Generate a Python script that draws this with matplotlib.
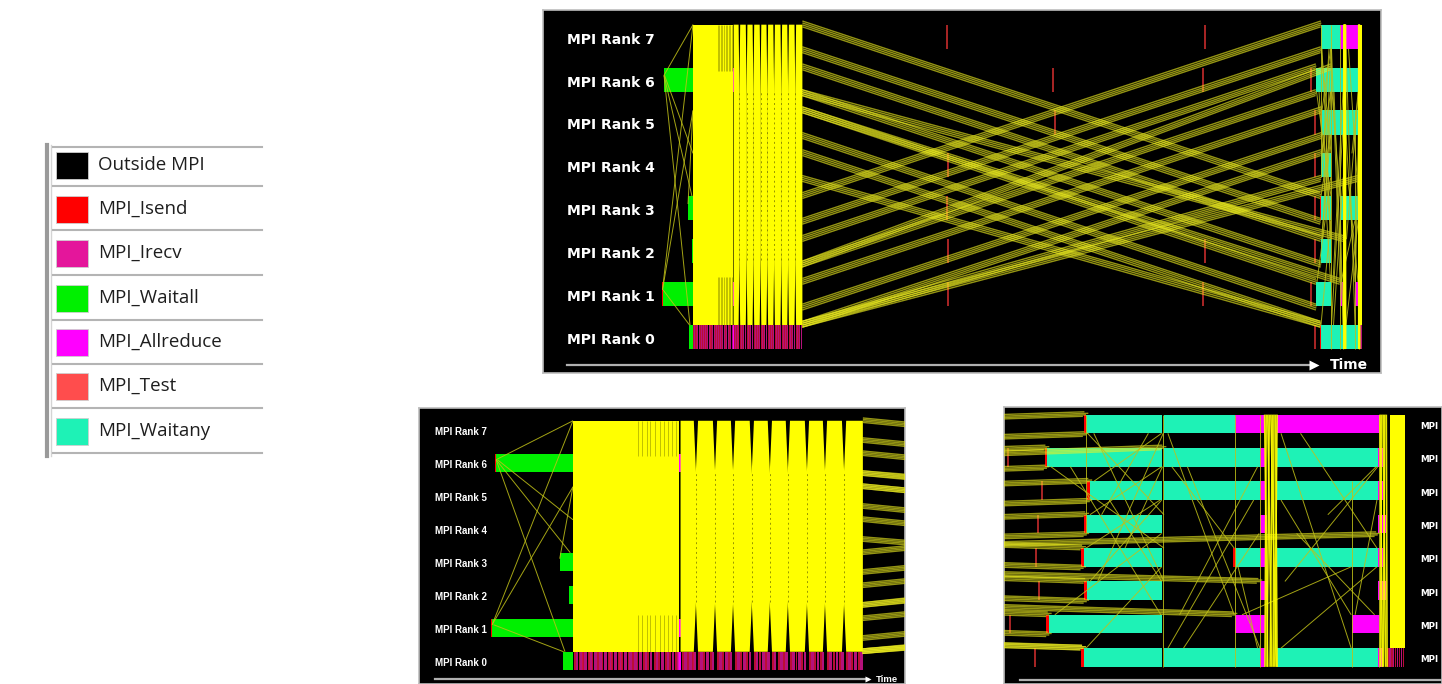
import matplotlib.pyplot as plt
from matplotlib.patches import Polygon, Rectangle
from matplotlib.collections import LineCollection
import numpy as np

plt.rcParams['font.family'] = ['DejaVu Sans']

W, H = 1442, 684

# function legend
func_names = ['Outside MPI', 'MPI_Isend', 'MPI_Irecv', 'MPI_Waitall',
              'MPI_Allreduce', 'MPI_Test', 'MPI_Waitany']
func_colors = ['#000000', '#ff0000', '#e4169b', '#00f000',
               '#ff00ff', '#ff4d4d', '#1ef2b6']
fcol = dict(zip(func_names, func_colors))

ranks = list(range(8))

# state intervals: start of the run
start_rank = [6, 6, 1, 1, 3, 2, 0, 6, 1, 0]
start_t0 = [120.6, 121.0, 119.1, 119.5, 145.0, 148.5, 146.2, 189.8, 189.8, 189.8]
start_t1 = [121.0, 150.0, 119.5, 150.0, 150.0, 150.0, 150.0, 190.9, 190.9, 190.9]
start_func = ['MPI_Isend', 'MPI_Waitall', 'MPI_Isend', 'MPI_Waitall', 'MPI_Waitall',
              'MPI_Waitall', 'MPI_Waitall', 'MPI_Allreduce', 'MPI_Allreduce', 'MPI_Allreduce']

# state intervals: end of the run
end_rank = [7, 7, 7, 7, 7,
            6, 6, 6, 6, 6, 6,
            5, 5, 5, 5, 5, 5,
            4, 4, 4, 4,
            3, 3, 3, 3, 3, 3, 3,
            2, 2, 2, 2,
            1, 1, 1, 1,
            0, 0, 0, 0, 0, 0]
end_t0 = [777.7, 778.0, 788.0, 797.1, 802.5,
          772.7, 773.0, 788.0, 800.3, 802.5, 815.4,
          778.1, 778.5, 788.0, 800.3, 802.5, 815.4,
          777.8, 778.1, 800.3, 815.4,
          777.4, 777.7, 796.9, 797.2, 800.3, 802.5, 815.4,
          777.8, 778.1, 800.3, 815.4,
          772.9, 773.3, 797.1, 812.1,
          777.4, 777.7, 788.0, 800.3, 802.5, 815.4]
end_t1 = [778.0, 787.7, 797.1, 800.9, 815.7,
          773.0, 787.7, 800.3, 800.9, 815.4, 816.1,
          778.5, 787.7, 800.3, 800.9, 815.4, 816.1,
          778.1, 787.7, 801.2, 816.5,
          777.7, 787.7, 797.2, 800.3, 801.0, 815.4, 816.1,
          778.1, 787.7, 801.3, 816.5,
          773.3, 787.7, 801.0, 815.7,
          777.7, 787.7, 800.3, 800.9, 815.4, 816.1]
end_func = ['MPI_Isend', 'MPI_Waitany', 'MPI_Waitany', 'MPI_Allreduce', 'MPI_Allreduce',
            'MPI_Isend', 'MPI_Waitany', 'MPI_Waitany', 'MPI_Allreduce', 'MPI_Waitany', 'MPI_Allreduce',
            'MPI_Isend', 'MPI_Waitany', 'MPI_Waitany', 'MPI_Allreduce', 'MPI_Waitany', 'MPI_Allreduce',
            'MPI_Isend', 'MPI_Waitany', 'MPI_Allreduce', 'MPI_Allreduce',
            'MPI_Isend', 'MPI_Waitany', 'MPI_Isend', 'MPI_Waitany', 'MPI_Allreduce', 'MPI_Waitany',
            'MPI_Allreduce',
            'MPI_Isend', 'MPI_Waitany', 'MPI_Allreduce', 'MPI_Allreduce',
            'MPI_Isend', 'MPI_Waitany', 'MPI_Allreduce', 'MPI_Allreduce',
            'MPI_Isend', 'MPI_Waitany', 'MPI_Waitany', 'MPI_Allreduce', 'MPI_Waitany', 'MPI_Allreduce']

# rank 0 point-to-point calls inside the first exchange phase (duration ~0.7-1.0)
r0_isend_t = [150.3, 152.1, 153.4, 155.6, 157.0, 159.2, 160.8, 163.1, 164.5, 166.9,
              168.2, 170.6, 172.3, 174.0, 176.4, 178.1, 180.5, 182.2, 184.6, 186.3,
              188.5, 191.2, 193.0, 194.8, 197.3, 199.1, 201.6, 204.4, 206.3, 208.5,
              211.1, 213.2, 215.4, 218.3, 220.1, 222.6, 225.0, 227.4, 229.3, 231.9,
              234.0, 236.2, 239.1, 241.0, 243.3, 245.9, 248.2, 250.5, 253.0, 255.1,
              257.6]
r0_irecv_t = [151.0, 152.6, 154.3, 156.2, 158.0, 159.9, 161.7, 163.7, 165.6, 167.4,
              169.3, 171.3, 173.0, 175.1, 177.0, 179.0, 181.2, 183.3, 185.3, 187.2,
              189.1, 191.9, 193.9, 195.4, 198.1, 200.2, 202.3, 205.2, 207.4, 209.2,
              211.9, 214.2, 216.3, 219.0, 221.3, 223.2, 225.8, 228.3, 230.0, 232.7,
              234.9, 237.0, 239.9, 242.0, 243.9, 246.6, 249.1, 251.2, 253.8, 256.0,
              258.4]
# rank 0 calls under the final exchange (duration ~0.2)
r0_end_isend_t = [816.6, 817.1, 817.6, 818.1, 818.6]
r0_end_irecv_t = [816.85, 817.35, 817.85, 818.35]

# MPI_Test calls
test_rank = [7, 4, 3, 2, 1, 6, 5, 7, 6, 2, 1, 6, 1, 5, 4, 3, 2, 0]
test_t = [404.0, 404.5, 404.2, 404.8, 405.0, 510.0, 512.0, 662.0, 660.0, 662.0, 660.0,
          768.0, 768.3, 772.4, 771.8, 771.6, 772.0, 771.5]

# dense all-to-all message phases (columns meet in the middle, except after the first)
burst_t0 = [150.0, 190.6, 196.4, 203.6, 210.4, 217.5, 224.3, 231.1, 238.3, 245.1, 252.3, 817.0]
burst_t1 = [190.2, 196.4, 203.6, 210.4, 217.5, 224.3, 231.1, 238.3, 245.1, 252.3, 259.4, 818.9]
streak_t = [174.6, 176.1, 177.9, 179.2, 181.0, 182.7, 184.3, 185.8, 187.4, 188.9]

# long halo messages between the two phases (bundles)
bundle_src = [7, 7, 6, 6, 5, 5, 4, 4, 3, 3, 2, 2, 1, 1, 0, 0, 6, 5, 0, 2]
bundle_src_side = [1, -1, 1, -1, 1, -1, 1, -1, 1, -1, 1, -1, 1, -1, 1, 1, -1, 1, 1, -1]
bundle_dst = [3, 3, 2, 2, 1, 1, 0, 0, 7, 7, 6, 6, 5, 5, 4, 4, 2, 1, 4, 6]
bundle_dst_side = [1, -1, 1, -1, 1, -1, 1, 1, 1, -1, 1, -1, 1, -1, 1, -1, 1, 1, -1, 1]
bundle_t_send = [259.4, 259.2, 259.4, 259.0, 259.4, 259.3, 259.4, 259.1, 259.4, 259.2,
                 259.4, 259.0, 259.4, 259.3, 259.4, 259.2, 258.8, 259.0, 259.1, 258.9]
bundle_t_recv = [777.7, 777.7, 778.1, 778.1, 773.3, 773.3, 777.7, 777.7, 778.0, 778.0,
                 773.0, 773.0, 778.5, 778.5, 778.1, 778.1, 800.3, 797.1, 815.4, 788.0]

# single messages around the start
smsg_src = [6, 6, 6, 1, 1, 1, 3, 6]
smsg_t0 = [121.0, 121.0, 121.5, 119.5, 119.5, 120.0, 145.0, 121.0]
smsg_dst = [7, 0, 4, 5, 7, 0, 5, 3]
smsg_t1 = [150.0, 147.0, 150.0, 150.0, 150.0, 146.5, 150.0, 149.0]

# single messages in the final phase
rmsg_src = [7, 7, 6, 5, 4, 3, 2, 1, 0, 7, 6, 0, 1, 3, 5, 7, 2, 1, 4, 0, 6, 4,
            6, 5, 2, 3, 0, 7, 4, 1]
rmsg_t0 = [778.2, 779.0, 773.5, 779.0, 778.5, 778.0, 778.5, 774.0, 778.0, 788.5, 789.0,
           788.5, 790.0, 797.5, 803.0, 803.0, 803.5, 812.5, 805.0, 803.0, 791.0, 780.0,
           776.0, 781.0, 779.5, 783.0, 790.5, 805.5, 809.0, 798.0]
rmsg_dst = [4, 2, 3, 7, 6, 5, 5, 4, 3, 1, 3, 5, 6, 0, 1, 0, 6, 5, 1, 3, 0, 7,
            1, 2, 7, 6, 4, 3, 6, 3]
rmsg_t1 = [788.0, 788.0, 788.0, 787.7, 787.7, 787.5, 787.7, 787.7, 787.7, 797.0, 797.0,
           799.5, 800.0, 800.0, 812.0, 812.0, 815.4, 815.3, 815.0, 815.3, 800.3, 786.0,
           787.6, 787.7, 787.9, 787.8, 800.2, 815.3, 815.2, 812.0]

# messages sent at the same instant (vertical)
vmsg_t = [787.85, 797.1, 800.3, 812.1, 815.5, 778.0]
vmsg_hi = [7, 7, 7, 5, 7, 7]
vmsg_lo = [0, 0, 0, 0, 0, 4]

# collective synchronisation lines
sync_t_top = [800.9, 801.1, 801.3, 801.5, 801.7, 801.9, 802.1, 802.3, 802.5,
              815.7, 815.9, 816.1, 816.3, 816.5]
sync_t_bot = [801.3, 800.95, 801.8, 801.2, 802.4, 801.6, 802.0, 802.5, 802.2,
              816.0, 815.75, 816.4, 816.1, 816.6]

BAR = 0.56
EDGE = 0.3
YELLOW = '#ffff00'
bundle_dy = [-0.07, -0.025, 0.02, 0.065]
bundle_dt = [-0.4, 0.0, 0.3, -0.2]


def draw_trace(ax):
    ax.set_facecolor('black')

    # state bars
    for rk, t0, t1, fn in zip(start_rank + end_rank, start_t0 + end_t0,
                              start_t1 + end_t1, start_func + end_func):
        ax.barh(rk, t1 - t0, left=t0, height=BAR, color=fcol[fn], lw=0, zorder=2)
    ax.barh([0] * len(r0_irecv_t), 1.0, left=r0_irecv_t, height=BAR,
            color=fcol['MPI_Irecv'], alpha=0.8, lw=0, zorder=2)
    ax.barh([0] * len(r0_isend_t), 0.7, left=r0_isend_t, height=BAR,
            color='#d0103c', alpha=0.9, lw=0, zorder=2)
    ax.barh([0] * len(r0_end_irecv_t), 0.2, left=r0_end_irecv_t, height=BAR,
            color=fcol['MPI_Irecv'], alpha=0.8, lw=0, zorder=2)
    ax.barh([0] * len(r0_end_isend_t), 0.2, left=r0_end_isend_t, height=BAR,
            color='#d0103c', alpha=0.9, lw=0, zorder=2)
    ax.vlines(test_t, np.array(test_rank) - BAR / 2, np.array(test_rank) + BAR / 2,
              colors='#d83030', lw=1.1, zorder=2)

    # halo bundles
    segs = []
    for s, ss, d, ds, ts, tr in zip(bundle_src, bundle_src_side, bundle_dst,
                                    bundle_dst_side, bundle_t_send, bundle_t_recv):
        for dy, dt in zip(bundle_dy, bundle_dt):
            segs.append([(ts, s + EDGE * ss + dy), (tr + dt, d + EDGE * ds + dy)])
    ax.add_collection(LineCollection(segs, colors='#f0f020', linewidths=1.0,
                                     alpha=0.62, zorder=3))

    # single messages
    segs = []
    for s, t0, d, t1 in zip(smsg_src, smsg_t0, smsg_dst, smsg_t1):
        segs.append([(t0, s + 0.1), (t1, d + 0.28)])
    for s, t0, d, t1 in zip(rmsg_src, rmsg_t0, rmsg_dst, rmsg_t1):
        sg = np.sign(d - s)
        segs.append([(t0, s + 0.28 * sg), (t1, d - 0.28 * sg)])
    for t, hi, lo in zip(vmsg_t, vmsg_hi, vmsg_lo):
        segs.append([(t, hi + 0.28), (t, lo - 0.28)])
    ax.add_collection(LineCollection(segs, colors='#c0c018', linewidths=0.7,
                                     alpha=0.85, zorder=3))

    # dense message phases: narrow wedge gaps at the top and bottom between columns
    seams = []
    for i, (t0, t1) in enumerate(zip(burst_t0, burst_t1)):
        tl = 0.8 if i > 0 and t0 - burst_t1[i - 1] < 0.3 else 0.0
        tr = 0.8 if i < len(burst_t0) - 1 and burst_t0[i + 1] - t1 < 0.3 else 0.0
        a = t0 - (0.15 if tl else 0.0)
        b = t1 + (0.15 if tr else 0.0)
        pts = [(t0 + tl, 7.28), (a, 5.5), (a, 2.0), (t0 + tl, 0.28),
               (t1 - tr, 0.28), (b, 2.0), (b, 5.5), (t1 - tr, 7.28)]
        ax.add_patch(Polygon(pts, closed=True, fc=YELLOW, ec='none', zorder=4))
        if tr:
            seams.append(t1)
    ax.vlines(seams, 1.8, 5.7, colors='#6a6a00', lw=0.7, linestyles=(0, (2, 3)),
              alpha=0.7, zorder=4)
    ax.vlines(streak_t, 6.2, 7.28, colors='black', lw=0.5, alpha=0.35, zorder=4)
    ax.vlines(streak_t, 0.28, 1.4, colors='black', lw=0.5, alpha=0.35, zorder=4)

    segs = [[(a, 7.28), (b, -0.28)] for a, b in zip(sync_t_top, sync_t_bot)]
    ax.add_collection(LineCollection(segs, colors=YELLOW, linewidths=1.2,
                                     alpha=0.9, zorder=5))


def panel(x0, y0, x1, y1, xlim, ylim):
    ax = fig.add_axes([x0 / W, 1 - y1 / H, (x1 - x0) / W, (y1 - y0) / H])
    draw_trace(ax)
    ax.set_xlim(xlim)
    ax.set_ylim(ylim)
    ax.set_xticks([])
    ax.set_yticks([])
    for sp in ax.spines.values():
        sp.set_color('#bdbdbd')
        sp.set_linewidth(1.2)
    return ax


def time_axis(ax, xa, xb, y, tx, fs, ms, family):
    ax.plot([xa, xb], [y, y], transform=ax.transAxes, color='#b0b0b0', lw=1.6,
            zorder=6, clip_on=False)
    if tx is not None:
        ax.plot([xb], [y], transform=ax.transAxes, marker='>', ms=ms, color='white',
                mec='none', zorder=6)
        ax.text(tx, y, 'Time', transform=ax.transAxes, color='white', fontsize=fs,
                fontweight='bold', va='center', ha='left', zorder=6, family=family)


def rank_labels(ax, x, fs, family, short=False):
    tr = ax.get_yaxis_transform()
    for r in ranks:
        ax.text(x, r - 0.07, 'MPI' if short else f'MPI Rank {r}', transform=tr,
                color='white', fontsize=fs, fontweight='bold', va='center', ha='left',
                zorder=6, family=family)


fig = plt.figure(figsize=(W / 100, H / 100), dpi=100)
fig.patch.set_facecolor('white')

# legend table
lg = fig.add_axes([0, 0, 1, 1])
lg.set_xlim(0, W)
lg.set_ylim(H, 0)
lg.axis('off')
row_edges = [147, 186, 230, 275, 320, 364, 408, 453]
swatch_top = [152, 196, 240, 285, 329, 373, 418]
lg.plot([47, 47], [145, 456], color='#9a9a9a', lw=3)
lg.plot([50.5, 50.5], [145, 456], color='#d4d4d4', lw=1)
for y in row_edges:
    lg.plot([53, 262], [y, y], color='#b4b4b4', lw=1.5)
for name, col, st in zip(func_names, func_colors, swatch_top):
    lg.add_patch(Rectangle((56, st), 32, 27, fc=col, ec='#cfcfcf', lw=0.6))
    lg.text(98, st + 12.5, name, fontsize=13.5, color='#1e1e1e', va='center',
            ha='left', family=['Open Sans', 'DejaVu Sans'])

small = ['Liberation Sans', 'DejaVu Sans']

# overview of the whole run
top = panel(543, 10, 1381, 373, (0, 838), (-0.839, 7.622))
rank_labels(top, 24 / 838, 10, ['DejaVu Sans'])
time_axis(top, 24 / 838, 771 / 838, 8 / 363, 787 / 838, 10, 7, ['DejaVu Sans'])

# start of the run
bl = panel(419, 408, 905, 684, (91.9, 275.3), (-0.697, 7.667))
rank_labels(bl, 16 / 486, 7, small)
time_axis(bl, 16 / 486, 449 / 486, 5 / 276, 457 / 486, 6.8, 5, small)

# end of the run
br = panel(1004, 407, 1442, 684, (767.49, 823.64), (-0.794, 7.509))
rank_labels(br, 416 / 438, 6.3, ['DejaVu Sans'], short=True)
time_axis(br, 16 / 438, 1.0, 4 / 277, None, 6.8, 5, small)

fig.savefig('out.png', dpi=100, facecolor='white')
